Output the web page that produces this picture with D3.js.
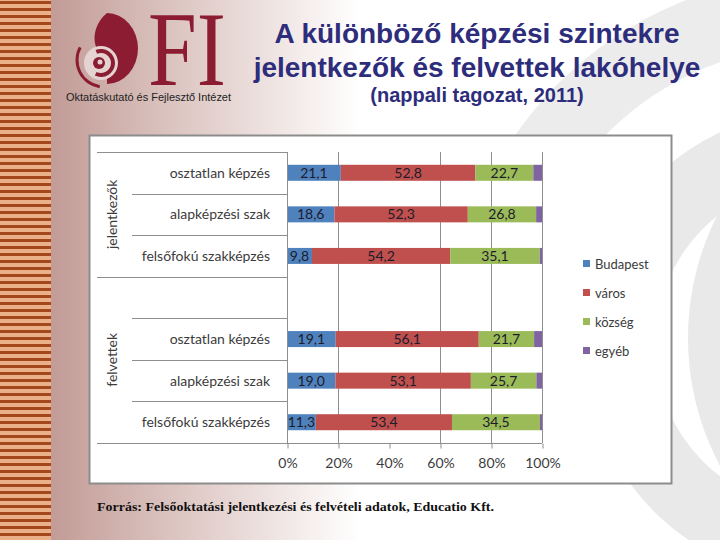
<!DOCTYPE html>
<html>
<head>
<meta charset="utf-8">
<script src="https://cdn.jsdelivr.net/npm/d3@7"></script>
<style>
  html, body { margin: 0; padding: 0; background: #fff; }
  svg { display: block; }
</style>
</head>
<body>
<svg width="720" height="540"></svg>
<script>
// values
const groups = ["jelentkezők", "felvettek"];
const rowLabels = ["osztatlan képzés", "alapképzési szak", "felsőfokú szakképzés", "",
                   "osztatlan képzés", "alapképzési szak", "felsőfokú szakképzés"];
const seriesNames = ["Budapest", "város", "község", "egyéb"];
const budapest = [21.1, 18.6, 9.8, null, 19.1, 19.0, 11.3];
const varos    = [52.8, 52.3, 54.2, null, 56.1, 53.1, 53.4];
const kozseg   = [22.7, 26.8, 35.1, null, 21.7, 25.7, 34.5];
const egyeb    = [3.4, 2.3, 0.9, null, 3.1, 2.2, 0.8];
const xTicks = [0, 20, 40, 60, 80, 100];
const gridTicks = [20, 60, 80, 100]; // the 40% line doesn't show on the slide

const colors = ["#4f81bd", "#c0504d", "#9bbb59", "#8064a2"];
const series = [budapest, varos, kozseg, egyeb];

const svg = d3.select("svg");
const labelFont = "Lato, 'Open Sans', sans-serif";

// ---------- slide background ----------
const defs = svg.append("defs");
const grad = defs.append("linearGradient")
    .attr("id", "bg").attr("gradientUnits", "userSpaceOnUse")
    .attr("x1", 51).attr("x2", 360).attr("y1", 0).attr("y2", 0);
grad.append("stop").attr("offset", 0).attr("stop-color", "#c29b96");
grad.append("stop").attr("offset", 0.4).attr("stop-color", "#dcc5c1");
grad.append("stop").attr("offset", 1).attr("stop-color", "#ffffff");
svg.append("rect").attr("x", 51).attr("y", 0).attr("width", 669).attr("height", 540)
    .attr("fill", "url(#bg)");

// watermark swirl on the right
svg.append("path")
    .attr("transform", "translate(820,345)")
    .attr("d", d3.arc()({innerRadius: 165, outerRadius: 235, startAngle: 0, endAngle: 2 * Math.PI}))
    .attr("fill", "#e9e9e9");
svg.append("path")
    .attr("transform", "translate(820,345)")
    .attr("d", d3.arc()({innerRadius: 300, outerRadius: 370, startAngle: -Math.PI / 2, endAngle: 0}))
    .attr("fill", "#ececec");
svg.append("circle").attr("cx", 960).attr("cy", 338).attr("r", 272).attr("fill", "#e9e9e9");

// striped strip on the left
svg.append("rect").attr("x", 0).attr("y", 0).attr("width", 51).attr("height", 540)
    .attr("fill", "#e9b08a");
svg.selectAll("rect.stripe")
    .data(d3.range(0, 540, 7))
    .enter().append("rect")
    .attr("class", "stripe")
    .attr("x", 0).attr("y", d => d + 1)
    .attr("width", 51).attr("height", 3)
    .attr("fill", "#a4471d");

// ---------- logo ----------
const maroon = "#8c1c32";
const logo = svg.append("g");
logo.append("path")
    .attr("d", "M107,13 A31,35.5 0 0 1 107,84 L107,13 Z")
    .attr("fill", maroon);
logo.append("path")
    .attr("d", "M107,13 C96,22 92,36 96,47 L107,47 Z")
    .attr("fill", maroon);
logo.append("circle").attr("cx", 101).attr("cy", 63).attr("r", 17).attr("fill", "#e4d3d1");
logo.append("path")
    .attr("transform", "translate(101,63)")
    .attr("d", d3.arc()({innerRadius: 10, outerRadius: 14, startAngle: -0.4, endAngle: 3.6}))
    .attr("fill", maroon);
logo.append("circle").attr("cx", 99).attr("cy", 63).attr("r", 6).attr("fill", maroon);
logo.append("circle").attr("cx", 100).attr("cy", 62).attr("r", 2.5).attr("fill", "#e4d3d1");
logo.append("path")
    .attr("transform", "translate(104,60)")
    .attr("d", d3.arc()({innerRadius: 25.5, outerRadius: 28.5, startAngle: 3.3, endAngle: 5.2}))
    .attr("fill", maroon);
logo.append("text")
    .attr("x", 148).attr("y", 85)
    .attr("font-family", "'Liberation Serif', 'DejaVu Serif', serif")
    .attr("font-size", 106)
    .attr("textLength", 78).attr("lengthAdjust", "spacingAndGlyphs")
    .attr("fill", maroon)
    .text("FI");
logo.append("text")
    .attr("x", 66).attr("y", 101)
    .attr("font-family", "'Liberation Sans', Arial, sans-serif")
    .attr("font-size", 10.5)
    .attr("textLength", 165).attr("lengthAdjust", "spacingAndGlyphs")
    .attr("fill", "#222")
    .text("Oktatáskutató és Fejlesztő Intézet");

// ---------- titles ----------
const titleColor = "#2d2d7c";
const titleFont = "'Liberation Sans', Arial, sans-serif";
svg.append("text").attr("x", 477).attr("y", 43)
    .attr("text-anchor", "middle").attr("font-family", titleFont)
    .attr("font-weight", "bold").attr("font-size", 28).attr("fill", titleColor)
    .text("A különböző képzési szintekre");
svg.append("text").attr("x", 477).attr("y", 77)
    .attr("text-anchor", "middle").attr("font-family", titleFont)
    .attr("font-weight", "bold").attr("font-size", 28).attr("fill", titleColor)
    .text("jelentkezők és felvettek lakóhelye");
svg.append("text").attr("x", 477).attr("y", 102)
    .attr("text-anchor", "middle").attr("font-family", titleFont)
    .attr("font-weight", "bold").attr("font-size", 20).attr("fill", titleColor)
    .text("(nappali tagozat, 2011)");

// ---------- chart box ----------
svg.append("rect")
    .attr("x", 89.5).attr("y", 135.5).attr("width", 582).attr("height", 348)
    .attr("fill", "#fff").attr("stroke", "#8c8c8c").attr("stroke-width", 2);

const x = d3.scaleLinear().domain([0, 100]).range([287, 542]);
const y = d3.scaleBand().domain(d3.range(rowLabels.length)).range([152, 443])
    .paddingInner(0.615).paddingOuter(0.3075);
const step = y.step();
const lineColor = "#8e8e8e";

// vertical gridlines
svg.append("g").selectAll("line")
    .data(gridTicks)
    .enter().append("line")
    .attr("x1", d => x(d) + 0.5).attr("x2", d => x(d) + 0.5)
    .attr("y1", 152).attr("y2", 443)
    .attr("stroke", lineColor);

// stacked bars
const stackData = rowLabels.map((lab, i) => {
    const o = {i: i};
    seriesNames.forEach((s, k) => { o[s] = series[k][i] || 0; });
    return o;
});
const stacked = d3.stack().keys(seriesNames)(stackData);

const layers = svg.append("g").selectAll("g")
    .data(stacked)
    .enter().append("g")
    .attr("fill", (d, k) => colors[k]);

layers.selectAll("rect")
    .data(d => d.filter(p => p.data[d.key] > 0))
    .enter().append("rect")
    .attr("x", p => x(p[0]))
    .attr("y", p => y(p.data.i))
    .attr("width", p => x(p[1]) - x(p[0]))
    .attr("height", y.bandwidth());

// value labels (not for "egyéb")
const fmt = v => v.toFixed(1).replace(".", ",");
layers.filter((d, k) => k < 3).selectAll("text")
    .data(d => d.filter(p => p.data[d.key] > 0).map(p => ({p: p, v: p.data[d.key]})))
    .enter().append("text")
    .attr("x", d => (x(d.p[0]) + x(d.p[1])) / 2)
    .attr("y", d => y(d.p.data.i) + y.bandwidth() / 2 + 5)
    .attr("text-anchor", "middle")
    .attr("font-family", labelFont).attr("font-size", 14)
    .attr("fill", "#1c1c2c")
    .text(d => fmt(d.v));

// category axis: vertical line and separators
svg.append("line")
    .attr("x1", 287.5).attr("x2", 287.5).attr("y1", 152).attr("y2", 443)
    .attr("stroke", lineColor);

const bounds = d3.range(rowLabels.length + 1).map(i => 152 + i * step);
const outer = [0, 3, rowLabels.length];
svg.append("g").selectAll("line")
    .data(bounds)
    .enter().append("line")
    .attr("x1", (d, i) => outer.includes(i) ? 97 : 132)
    .attr("x2", (d, i) => i === rowLabels.length ? 542 : 287)
    .attr("y1", d => Math.round(d) + 0.5).attr("y2", d => Math.round(d) + 0.5)
    .attr("stroke", lineColor);

svg.append("g").selectAll("text")
    .data(rowLabels)
    .enter().append("text")
    .attr("x", 270)
    .attr("y", (d, i) => y(i) + y.bandwidth() / 2 + 5)
    .attr("text-anchor", "end")
    .attr("font-family", labelFont).attr("font-size", 14)
    .attr("fill", "#3c3c3c")
    .text(d => d);

// group labels
const groupSpan = [[0, 3], [3, 7]];
svg.append("g").selectAll("text")
    .data(groups)
    .enter().append("text")
    .attr("transform", (d, i) => {
        const cy = (bounds[groupSpan[i][0]] + bounds[groupSpan[i][1]]) / 2;
        return `translate(117,${cy}) rotate(-90)`;
    })
    .attr("text-anchor", "middle")
    .attr("font-family", labelFont).attr("font-size", 14)
    .attr("fill", "#3c3c3c")
    .text(d => d);

// value axis
const xAxis = svg.append("g")
    .attr("transform", "translate(0.5,443.5)")
    .call(d3.axisBottom(x).tickValues(xTicks).tickSize(5).tickPadding(10)
        .tickFormat(d => d + "%"));
xAxis.select(".domain").remove();
xAxis.selectAll("line").attr("stroke", lineColor);
xAxis.selectAll("text")
    .attr("font-family", labelFont).attr("font-size", 14).attr("fill", "#3c3c3c");

// legend
const legend = svg.append("g").selectAll("g")
    .data(seriesNames)
    .enter().append("g")
    .attr("transform", (d, i) => `translate(583,${264 + i * 29})`);
legend.append("rect")
    .attr("x", 0).attr("y", -4).attr("width", 7).attr("height", 7)
    .attr("fill", (d, i) => colors[i]);
legend.append("text")
    .attr("x", 12).attr("y", 4.5)
    .attr("font-family", labelFont).attr("font-size", 13)
    .attr("fill", "#3c3c3c")
    .text(d => d);

// source
svg.append("text")
    .attr("x", 97).attr("y", 511)
    .attr("font-family", "'Liberation Serif', 'Times New Roman', serif")
    .attr("font-weight", "bold").attr("font-size", 13)
    .attr("textLength", 397).attr("lengthAdjust", "spacingAndGlyphs")
    .attr("fill", "#111")
    .text("Forrás: Felsőoktatási jelentkezési és felvételi adatok, Educatio Kft.");
</script>
</body>
</html>
